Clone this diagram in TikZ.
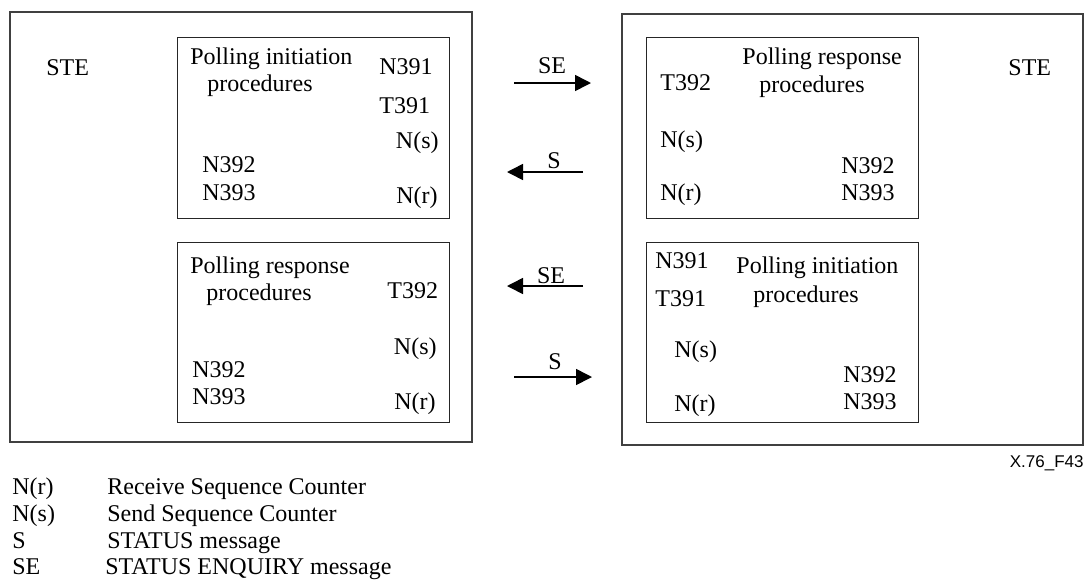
\documentclass[tikz,border=0pt]{standalone}
\usepackage{fontspec}
\setmainfont{Liberation Serif}
\newfontfamily\figsans{Liberation Sans}
\usepackage{tikz}
\usetikzlibrary{arrows.meta}

\tikzset{
	frame/.style={draw=black!75, line width=0.6pt},
	inbox/.style={draw=black!85, line width=0.5pt},
	lbl/.style={inner sep=0pt, text height=7.9pt, text depth=0pt, font=\fontsize{12}{14}\selectfont},
	msg/.style={line width=0.8pt, -{Triangle[length=8pt,width=8pt]}}
}

\begin{document}
\begin{tikzpicture}[x=0.5pt, y=-0.5pt]
	\useasboundingbox (0,0) rectangle (1087,580);
	% the two STE frames
	\draw[frame] (10,12) rectangle (472,442);
	\draw[frame] (622,14) rectangle (1083,445);
	% procedure boxes
	\draw[inbox] (177,37) rectangle (449,218);
	\draw[inbox] (177,242) rectangle (449,422);
	\draw[inbox] (646,37) rectangle (918,218);
	\draw[inbox] (646,242) rectangle (918,422);

	\node[lbl, anchor=west] (steL) at (46,68) {STE};
	\node[lbl, anchor=west] (steR) at (1008,68) {STE};

	% left STE, initiation
	\node[lbl, anchor=west] (liHead) at (190,57) {Polling initiation};
	\node[lbl, anchor=west] (liSub) at (207,84) {procedures};
	\node[lbl, anchor=west] (liNa) at (379,67) {N391};
	\node[lbl, anchor=west] (liTa) at (379,106) {T391};
	\node[lbl, anchor=east] (liNs) at (439,141) {N(s)};
	\node[lbl, anchor=west] (liNb) at (202,165) {N392};
	\node[lbl, anchor=west] (liNc) at (202,193) {N393};
	\node[lbl, anchor=east] (liNr) at (438,196) {N(r)};

	% left STE, response
	\node[lbl, anchor=west] (lrHead) at (190,266) {Polling response};
	\node[lbl, anchor=west] (lrSub) at (206,293) {procedures};
	\node[lbl, anchor=west] (lrTb) at (387,291) {T392};
	\node[lbl, anchor=east] (lrNs) at (437,347) {N(s)};
	\node[lbl, anchor=west] (lrNb) at (192,370) {N392};
	\node[lbl, anchor=west] (lrNc) at (192,397) {N393};
	\node[lbl, anchor=east] (lrNr) at (436,402) {N(r)};

	% right STE, response
	\node[lbl, anchor=west] (rrHead) at (742,57) {Polling response};
	\node[lbl, anchor=west] (rrSub) at (759,85) {procedures};
	\node[lbl, anchor=west] (rrTb) at (660,83) {T392};
	\node[lbl, anchor=west] (rrNs) at (660,140) {N(s)};
	\node[lbl, anchor=east] (rrNb) at (895,166) {N392};
	\node[lbl, anchor=east] (rrNc) at (895,193) {N393};
	\node[lbl, anchor=west] (rrNr) at (660,193) {N(r)};

	% right STE, initiation
	\node[lbl, anchor=west] (riNa) at (655,261) {N391};
	\node[lbl, anchor=west] (riTa) at (655,299) {T391};
	\node[lbl, anchor=west] (riHead) at (736,266) {Polling initiation};
	\node[lbl, anchor=west] (riSub) at (753,295) {procedures};
	\node[lbl, anchor=west] (riNs) at (674,350) {N(s)};
	\node[lbl, anchor=east] (riNb) at (897,375) {N392};
	\node[lbl, anchor=east] (riNc) at (897,402) {N393};
	\node[lbl, anchor=west] (riNr) at (674,404) {N(r)};

	% messages between the STEs
	\coordinate (seAl) at (514,83);
	\coordinate (seAr) at (591,83);
	\coordinate (stAl) at (507,172);
	\coordinate (stAr) at (583,172);
	\coordinate (seBl) at (507,286);
	\coordinate (seBr) at (583,286);
	\coordinate (stBl) at (514,377);
	\coordinate (stBr) at (592,377);
	\draw[msg] (seAl) -- (seAr);
	\draw[msg] (stAr) -- (stAl);
	\draw[msg] (seBr) -- (seBl);
	\draw[msg] (stBl) -- (stBr);
	\node[lbl] (seAtxt) at (552,66) {SE};
	\node[lbl] (stAtxt) at (554,161) {S};
	\node[lbl] (seBtxt) at (551,276) {SE};
	\node[lbl] (stBtxt) at (555,362) {S};

	\node[anchor=east, inner sep=0pt, font=\figsans\fontsize{8.5}{10}\selectfont] (figid) at (1084,463) {X.76\_F43};

	% legend
	\node[lbl, anchor=west] (keyNr) at (12,487) {N(r)};
	\node[lbl, anchor=west] (txtNr) at (107,487) {Receive Sequence Counter};
	\node[lbl, anchor=west] (keyNs) at (12,514) {N(s)};
	\node[lbl, anchor=west] (txtNs) at (107,514) {Send Sequence Counter};
	\node[lbl, anchor=west] (keyS) at (12,541) {S};
	\node[lbl, anchor=west] (txtS) at (107,541) {STATUS message};
	\node[lbl, anchor=west] (keySE) at (12,567) {SE};
	\node[lbl, anchor=west] (txtSE) at (105,567) {STATUS ENQUIRY message};
\end{tikzpicture}
\end{document}
